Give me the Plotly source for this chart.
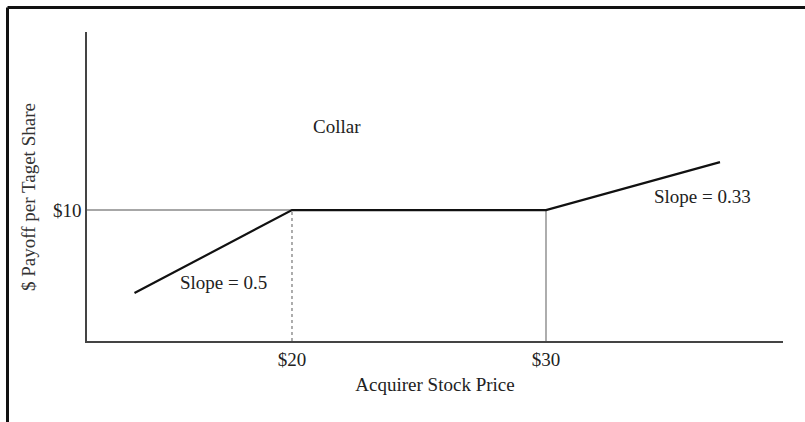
import plotly.graph_objects as go

# Data
stock_price = [13.8, 20, 30, 36.85]
payoff = [3.66, 10, 10, 13.66]
x_ticks = [20, 30]
x_tick_labels = ["$20", "$30"]
y_ticks = [10]
y_tick_labels = ["$10"]
ref_floor_x = [11.93, 20]
ref_floor_y = [10, 10]
collar_low = 20
collar_high = 30
annotations_text = ["Collar", "Slope = 0.5", "Slope = 0.33"]
annotations_x = [21.77, 17.3, 36.18]
annotations_y = [16.4, 4.5, 11.0]
x_title = "Acquirer Stock Price"
y_title = "$ Payoff per Taget Share"

FONT = "Liberation Serif, Times New Roman, serif"
FS = 19
X_RANGE = [11.93, 39.33]
Y_RANGE = [0, 23.6]

fig = go.Figure()

# horizontal reference line at $10 up to $20
fig.add_trace(go.Scatter(x=ref_floor_x, y=ref_floor_y, mode="lines",
                         line=dict(color="#8a8a8a", width=1.5), hoverinfo="skip"))
# dotted vertical at $20
fig.add_trace(go.Scatter(x=[collar_low, collar_low], y=[Y_RANGE[0], payoff[1]], mode="lines",
                         line=dict(color="#777777", width=1.2, dash="dot"), hoverinfo="skip"))
# vertical at $30
fig.add_trace(go.Scatter(x=[collar_high, collar_high], y=[Y_RANGE[0], payoff[2]], mode="lines",
                         line=dict(color="#777777", width=1.2), hoverinfo="skip"))
# payoff line
fig.add_trace(go.Scatter(x=stock_price, y=payoff, mode="lines",
                         line=dict(color="#111111", width=2.2), hoverinfo="skip"))

for t, x, y in zip(annotations_text, annotations_x, annotations_y):
    fig.add_annotation(x=x, y=y, text=t, showarrow=False,
                       font=dict(family=FONT, size=FS, color="#222222"))

# y-axis title (placed as in the reference, slightly below axis centre)
fig.add_annotation(xref="paper", yref="paper", x=(28 - 87) / 696, y=(341 - 197) / 309,
                   text=y_title, textangle=-90, showarrow=False,
                   xanchor="center", yanchor="middle",
                   font=dict(family=FONT, size=FS, color="#333333"))

# outer frame (top and left)
fig.add_shape(type="line", xref="paper", yref="paper",
              x0=(7.5 - 87) / 696, x1=(805 - 87) / 696 + 0.01,
              y0=1 + (32 - 7.5) / 309, y1=1 + (32 - 7.5) / 309,
              line=dict(color="#111111", width=3))
fig.add_shape(type="line", xref="paper", yref="paper",
              x0=(7.5 - 87) / 696, x1=(7.5 - 87) / 696,
              y0=1 + (32 - 7.5) / 309, y1=-(430 - 341) / 309,
              line=dict(color="#111111", width=3))

fig.update_layout(
    width=805, height=422,
    margin=dict(l=87, r=22, t=32, b=81),
    paper_bgcolor="white", plot_bgcolor="white",
    showlegend=False,
    font=dict(family=FONT, size=FS, color="#222222"),
    xaxis=dict(range=X_RANGE, showgrid=False, zeroline=False,
               showline=True, linecolor="#444444", linewidth=1.5,
               tickmode="array", tickvals=x_ticks, ticktext=x_tick_labels,
               ticks="", ticklen=0,
               title=dict(text=x_title, standoff=9,
                          font=dict(family=FONT, size=FS))),
    yaxis=dict(range=Y_RANGE, showgrid=False, zeroline=False,
               showline=True, linecolor="#444444", linewidth=1.5,
               tickmode="array", tickvals=y_ticks, ticktext=y_tick_labels,
               ticks="", ticklen=0),
)

fig.write_html("out.html",
               config={"displayModeBar": False},
               post_script="document.body.style.margin='0';document.body.style.overflow='hidden';")
